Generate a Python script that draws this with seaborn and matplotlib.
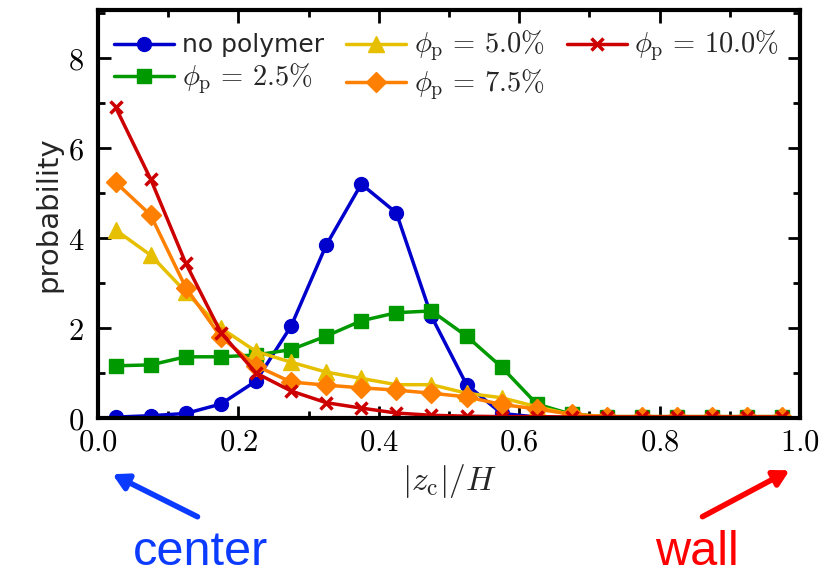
import numpy as np
import matplotlib
matplotlib.use('Agg')
import matplotlib.pyplot as plt
import seaborn as sns
from matplotlib.ticker import MultipleLocator, FormatStrFormatter

sns.set_style('ticks')
plt.rcParams['mathtext.fontset'] = 'cm'
plt.rcParams['font.family'] = ['DejaVu Sans']
plt.rcParams['axes.edgecolor'] = 'black'
plt.rcParams['xtick.color'] = 'black'
plt.rcParams['ytick.color'] = 'black'

# bin centres of |z_c|/H
z = [0.025, 0.075, 0.125, 0.175, 0.225, 0.275, 0.325, 0.375, 0.425, 0.475,
     0.525, 0.575, 0.625, 0.675, 0.725, 0.775, 0.825, 0.875, 0.925, 0.975]

p_none = [0.02, 0.05, 0.10, 0.31, 0.82, 2.04, 3.84, 5.20, 4.56, 2.26,
          0.74, 0.10, 0.02, 0.01, 0.01, 0.01, 0.01, 0.01, 0.01, 0.01]
p_25 = [1.16, 1.18, 1.36, 1.36, 1.40, 1.52, 1.82, 2.16, 2.34, 2.38,
        1.82, 1.13, 0.31, 0.08, 0.03, 0.03, 0.03, 0.03, 0.03, 0.03]
p_50 = [4.18, 3.62, 2.80, 2.00, 1.48, 1.24, 1.02, 0.88, 0.74, 0.74,
        0.55, 0.45, 0.25, 0.07, 0.03, 0.03, 0.03, 0.03, 0.03, 0.03]
p_75 = [5.24, 4.51, 2.90, 1.80, 1.16, 0.80, 0.73, 0.67, 0.62, 0.55,
        0.47, 0.30, 0.20, 0.08, 0.03, 0.03, 0.03, 0.03, 0.03, 0.03]
p_100 = [6.91, 5.31, 3.44, 1.90, 1.00, 0.60, 0.34, 0.22, 0.11, 0.06,
         0.04, 0.03, 0.03, 0.02, 0.02, 0.02, 0.02, 0.02, 0.02, 0.02]

labels = ['no polymer', r'$\phi_{\rm p}\,=\,2.5\%$', r'$\phi_{\rm p}\,=\,5.0\%$',
          r'$\phi_{\rm p}\,=\,7.5\%$', r'$\phi_{\rm p}\,=\,10.0\%$']
colors = ['#0000CC', '#009900', '#E6C000', '#FF8000', '#CC0000']
markers = ['o', 's', '^', 'D', 'x']
msizes = [10, 10, 11, 10, 9]
series = [p_none, p_25, p_50, p_75, p_100]

fig = plt.figure(figsize=(8.25, 5.81), dpi=100)
ax = fig.add_axes([0.1188, 0.2806, 0.8509, 0.7022])

for y, lab, c, m, ms in zip(series, labels, colors, markers, msizes):
    sns.lineplot(x=z, y=y, ax=ax, color=c, marker=m, markersize=ms,
                 markeredgecolor=c, markeredgewidth=2.5 if m == 'x' else 1,
                 linewidth=2.5, label=lab)

ax.set_xlim(0, 1.0)
ax.set_ylim(0, 9.07)
ax.xaxis.set_major_locator(MultipleLocator(0.2))
ax.xaxis.set_minor_locator(MultipleLocator(0.1))
ax.yaxis.set_major_locator(MultipleLocator(2))
ax.yaxis.set_minor_locator(MultipleLocator(1))
ax.xaxis.set_major_formatter(FormatStrFormatter(r'$%.1f$'))
ax.yaxis.set_major_formatter(FormatStrFormatter(r'$%d$'))
ax.tick_params(which='both', direction='in', top=True, right=True, labelsize=22,
               width=2)
ax.tick_params(which='major', length=9)
ax.tick_params(which='minor', length=5)
ax.tick_params(axis='x', pad=7)
ax.tick_params(axis='y', pad=10)
for s in ax.spines.values():
    s.set_linewidth(3)

ax.set_xlabel(r'$|z_{\rm c}|/H$', fontsize=24, labelpad=4)
ax.set_ylabel('probability', fontsize=21, labelpad=4)

leg = ax.legend(loc='upper left', ncol=3, frameon=False, fontsize=18,
                handlelength=2.4, columnspacing=0.9, handletextpad=0.3,
                labelspacing=0.15, borderaxespad=0.1,
                bbox_to_anchor=(0.005, 0.985))
for t in leg.get_texts()[1:]:
    t.set_fontsize(20.5)

# center / wall annotations
fig.text(0.243, 0.028, 'center', color='#0B3BFF', fontsize=35,
         family='Liberation Sans', ha='center')
fig.text(0.845, 0.028, 'wall', color='#FF0000', fontsize=35,
         family='Liberation Sans', ha='center')
ax.annotate('', xy=(110 / 825, 1 - 473 / 581), xytext=(200 / 825, 1 - 518 / 581),
            xycoords='figure fraction', textcoords='figure fraction',
            arrowprops=dict(arrowstyle='-|>,head_width=0.5,head_length=0.9',
                            color='#0B3BFF', lw=4))
ax.annotate('', xy=(792 / 825, 1 - 469 / 581), xytext=(700 / 825, 1 - 518 / 581),
            xycoords='figure fraction', textcoords='figure fraction',
            arrowprops=dict(arrowstyle='-|>,head_width=0.5,head_length=0.9',
                            color='#FF0000', lw=4))

fig.savefig('out.png', dpi=100)
